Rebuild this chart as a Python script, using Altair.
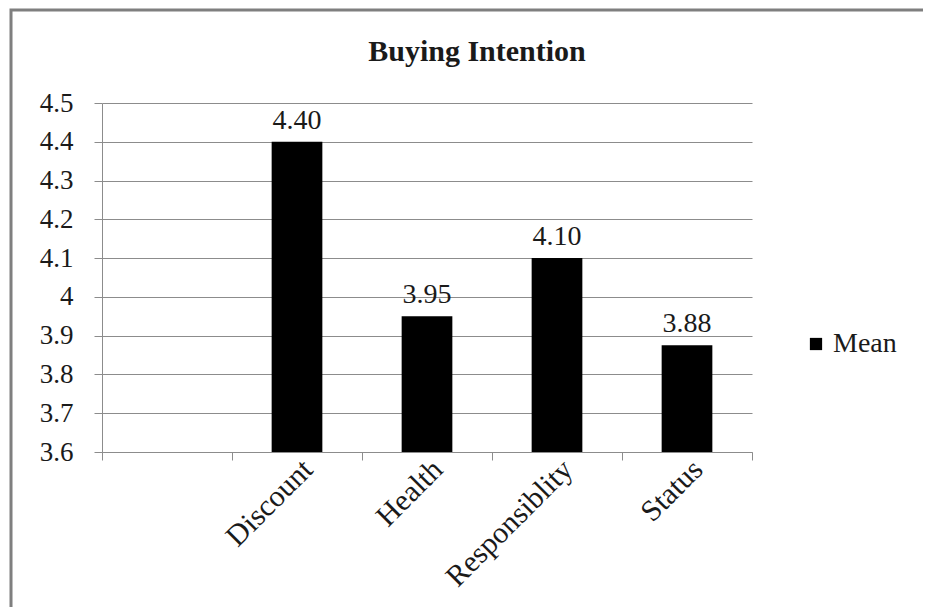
import altair as alt
import pandas as pd

# ---- data ----
domain_categories = ["", "Discount", "Health", "Responsiblity", "Status"]
categories = ["Discount", "Health", "Responsiblity", "Status"]
means = [4.40, 3.95, 4.10, 3.875]
series_name = ["Mean", "Mean", "Mean", "Mean"]
y_ticks = [3.6, 3.7, 3.8, 3.9, 4.0, 4.1, 4.2, 4.3, 4.4, 4.5]
y_min, y_max = 3.6, 4.5
chart_title = "Buying Intention"

df = pd.DataFrame({"Category": categories, "Value": means, "Series": series_name})

SERIF = "Liberation Serif"
GRID = "#8c8c8c"
TEXT = "#1a1a1a"

x_scale = alt.Scale(domain=domain_categories, paddingInner=0, paddingOuter=0)
y_scale = alt.Scale(domain=[y_min, y_max], zero=False, nice=False)

x_axis = alt.Axis(
    title=None,
    labelAngle=-45,
    labelFont=SERIF,
    labelFontSize=30,
    labelColor=TEXT,
    labelPadding=-6,
    labelOverlap=False,
    tickBand="extent",
    tickSize=8,
    tickColor=GRID,
    domainColor=GRID,
    grid=False,
)

y_axis = alt.Axis(
    title=None,
    values=y_ticks,
    tickCount=len(y_ticks),
    format=".1~f",
    labelFont=SERIF,
    labelFontSize=27,
    labelColor=TEXT,
    labelPadding=21,
    labelOverlap=False,
    tickSize=8,
    tickColor=GRID,
    domainColor=GRID,
    gridColor=GRID,
    gridOpacity=1,
)

x_enc = alt.X("Category:N", scale=x_scale, sort=domain_categories, axis=x_axis)
y_enc = alt.Y("Value:Q", scale=y_scale, axis=y_axis)

base = alt.Chart(df)

bars = base.mark_bar(color="black", width=alt.RelativeBandSize(0.39)).encode(
    x=x_enc,
    y=y_enc,
    y2=alt.datum(y_min),
    color=alt.Color(
        "Series:N",
        scale=alt.Scale(range=["black"]),
        legend=alt.Legend(
            title=None,
            orient="none",
            legendX=700,
            legendY=227,
            symbolType="square",
            symbolSize=150,
            symbolStrokeWidth=0,
            labelFont=SERIF,
            labelFontSize=28,
            labelColor=TEXT,
            labelOffset=3,
            padding=0,
        ),
    ),
)

labels = base.mark_text(
    font=SERIF, fontSize=28, color=TEXT, dy=-13, baseline="alphabetic"
).encode(
    x=x_enc,
    y=y_enc,
    text=alt.Text("Value:Q", format=".2f"),
)

frame = alt.Chart(pd.DataFrame({"f": [0]})).mark_rect(
    fill=None, stroke="#7f7f7f", strokeWidth=3
).encode(
    x=alt.value(-91), x2=alt.value(900), y=alt.value(-93), y2=alt.value(600)
)

title = alt.Chart(pd.DataFrame({"t": [chart_title]})).mark_text(
    font=SERIF, fontSize=30, fontWeight="bold", color=TEXT, baseline="middle", align="center"
).encode(
    x=alt.value(375), y=alt.value(-51), text="t:N"
)

chart = (
    alt.layer(frame, title, bars, labels)
    .properties(
        width=650,
        height=349,
        padding={"left": 94, "top": 95, "right": 171, "bottom": 155},
        autosize=alt.AutoSizeParams(type="none"),
    )
    .configure_view(stroke=None)
)

chart.save("out.html", embed_options={"renderer": "svg", "actions": False})
